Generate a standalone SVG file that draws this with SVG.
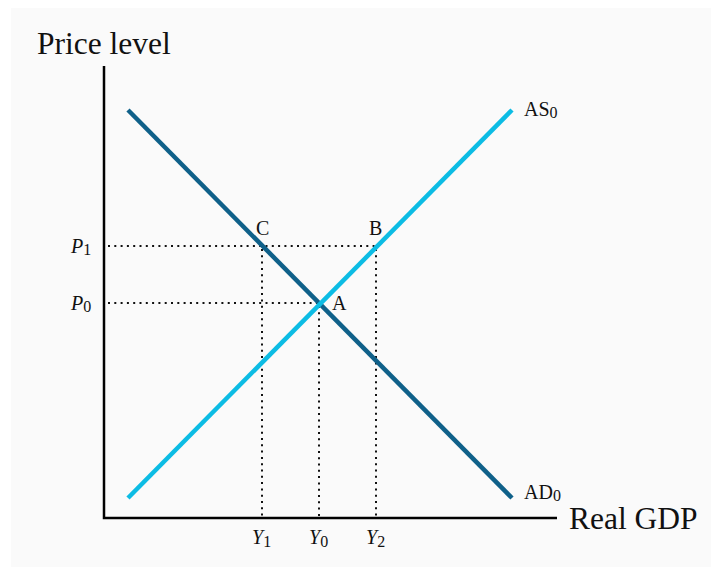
<svg xmlns="http://www.w3.org/2000/svg" width="711" height="567" viewBox="0 0 711 567">
<style>
text{font-family:"Liberation Serif","Times New Roman",serif;fill:#111}
.axis{stroke:#000;stroke-width:2.5;fill:none}
.dot{stroke:#111;stroke-width:2;stroke-dasharray:2 4.3;fill:none}
.lbl{font-size:20px}
.it{font-style:italic}
.sub{font-size:16px}
</style>
<rect x="0" y="0" width="711" height="567" fill="#ffffff"/>
<rect x="11" y="8" width="700" height="559" fill="#fafafa"/>
<g id="axes">
<path class="axis" d="M104 66V518H557"/>
<text x="37" y="54" font-size="31.5">Price level</text>
<text x="569" y="529" font-size="31.5">Real GDP</text>
</g>
<g id="guides">
<path class="dot" d="M108 246H376M108 303H319M262 249V516M376 249V516M319 306V516"/>
</g>
<g id="curves">
<line id="AD0" x1="128" y1="110" x2="512" y2="498" stroke="#0f6089" stroke-width="4.5"/>
<line id="AS0" x1="128" y1="498" x2="512" y2="110" stroke="#0cbce4" stroke-width="4.5"/>
</g>
<g id="labels">
<text class="lbl" x="524" y="116">AS<tspan class="sub" dy="2">0</tspan></text>
<text class="lbl" x="524" y="499">AD<tspan class="sub" dy="2">0</tspan></text>
<text class="lbl" x="256" y="235">C</text>
<text class="lbl" x="369" y="235">B</text>
<text class="lbl" x="332" y="310">A</text>
<text class="lbl" x="71" y="253"><tspan class="it">P</tspan><tspan class="sub" dy="2">1</tspan></text>
<text class="lbl" x="71" y="310"><tspan class="it">P</tspan><tspan class="sub" dy="2">0</tspan></text>
<text class="lbl" x="252" y="544"><tspan class="it">Y</tspan><tspan class="sub" dy="3">1</tspan></text>
<text class="lbl" x="309" y="544"><tspan class="it">Y</tspan><tspan class="sub" dy="3">0</tspan></text>
<text class="lbl" x="366" y="544"><tspan class="it">Y</tspan><tspan class="sub" dy="3">2</tspan></text>
</g>
</svg>
